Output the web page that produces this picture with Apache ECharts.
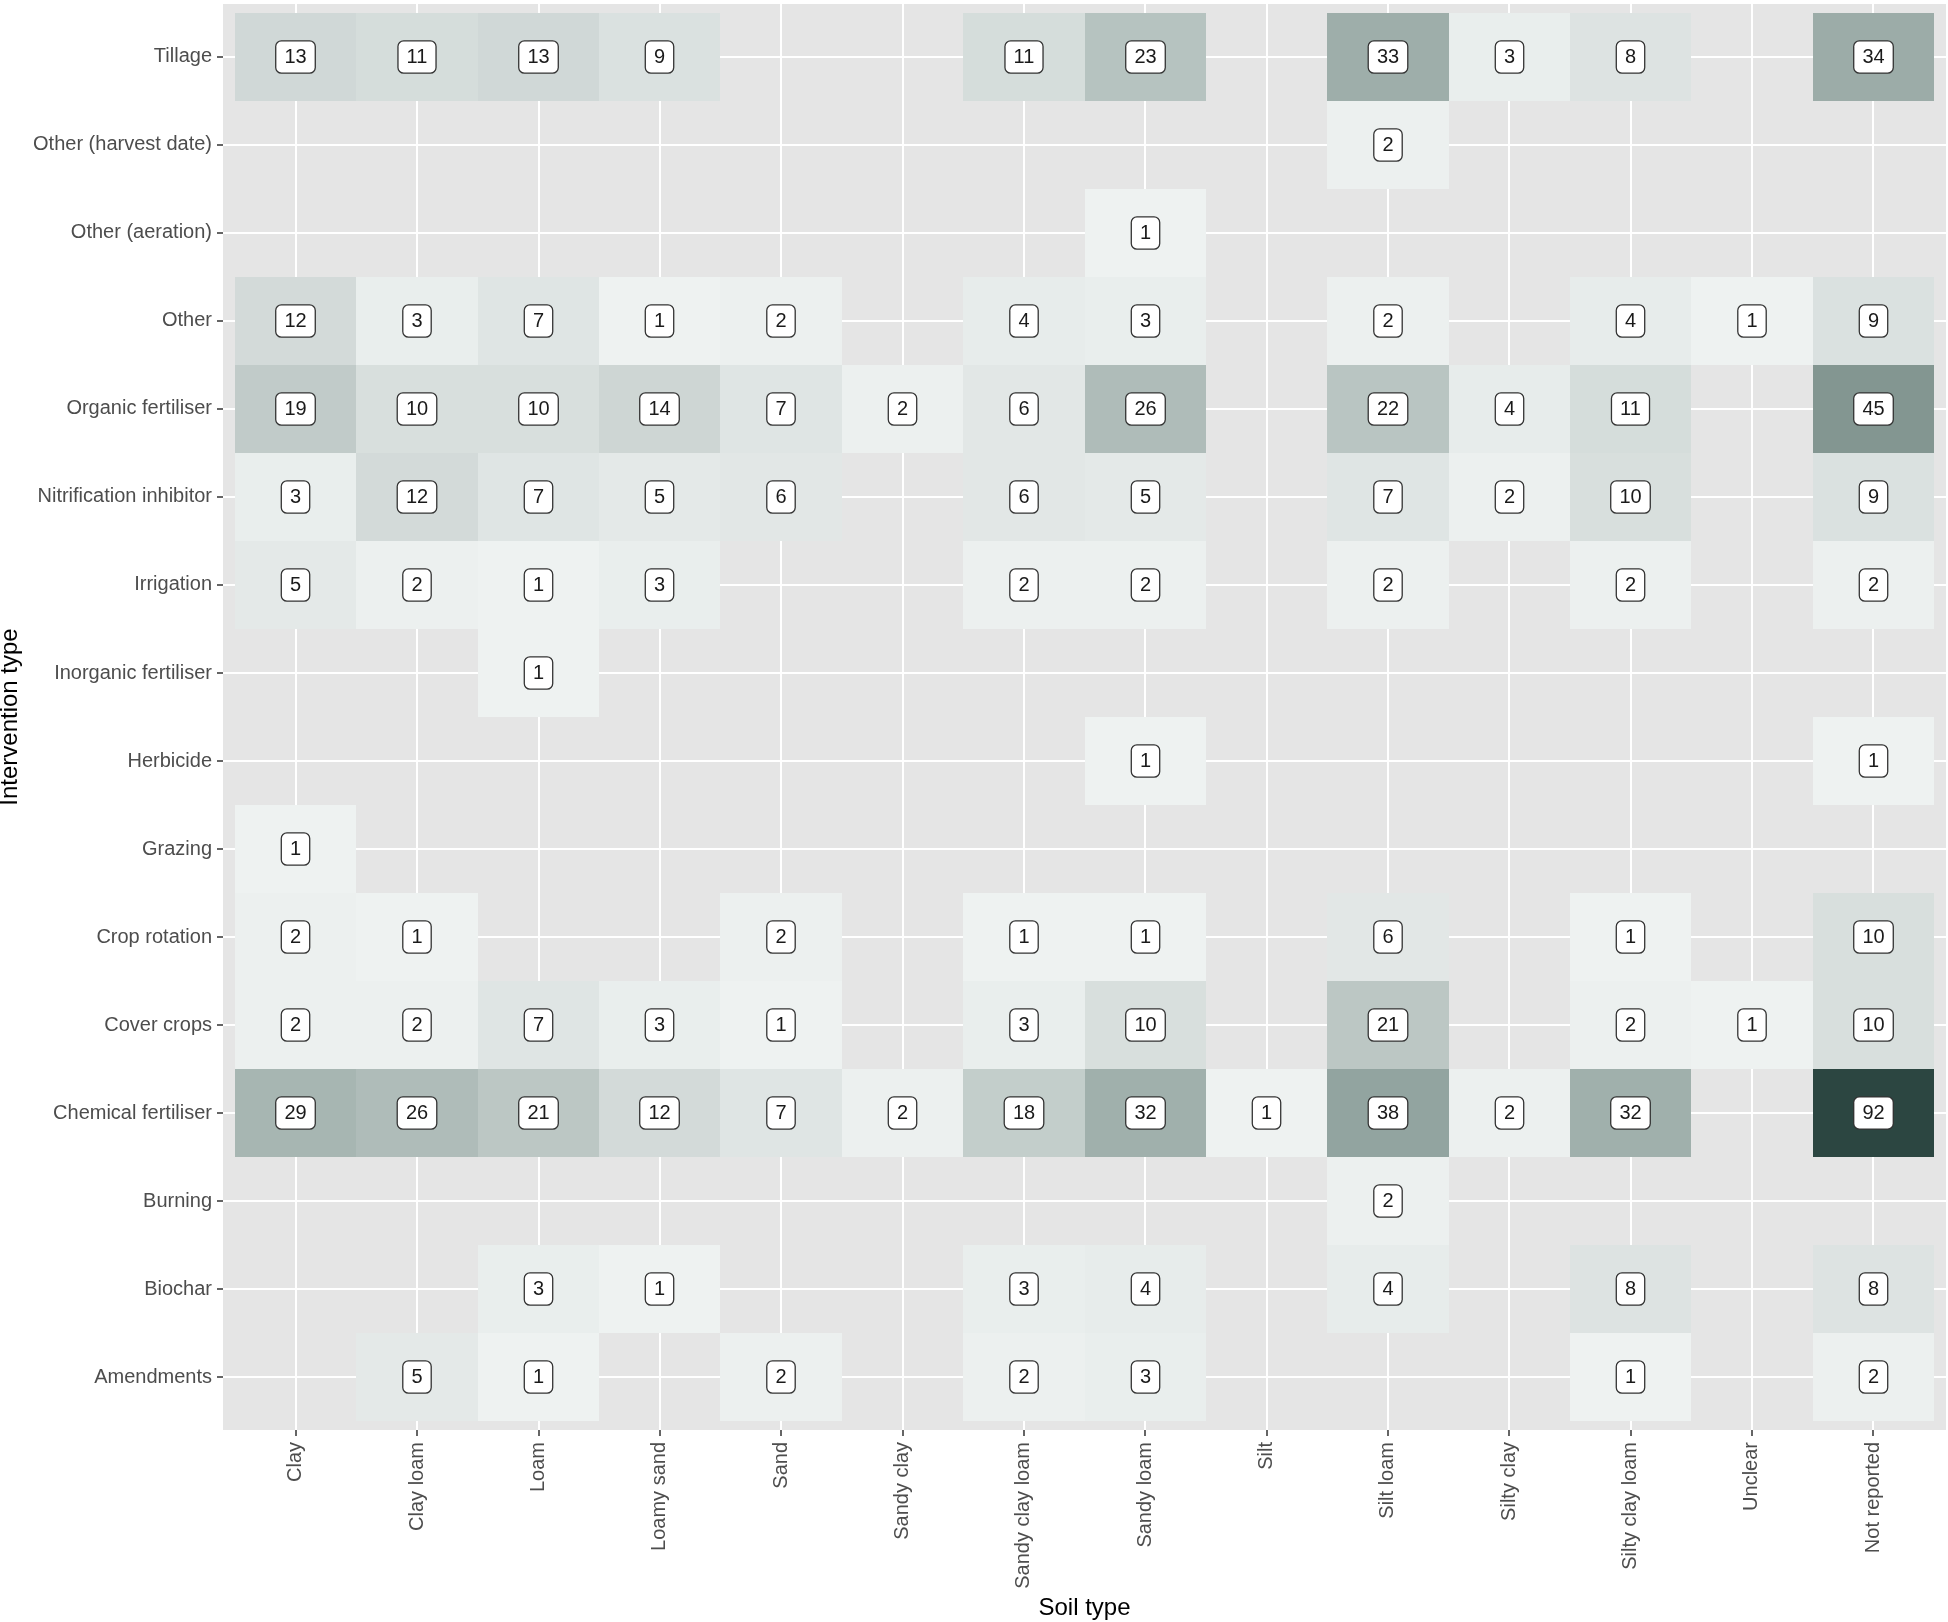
<!DOCTYPE html>
<html>
<head>
<meta charset="utf-8">
<script src="https://cdn.jsdelivr.net/npm/echarts@6/dist/echarts.min.js"></script>
<style>
  html, body { margin: 0; padding: 0; background: #fff; }
  #main { width: 1948px; height: 1622px; }
</style>
</head>
<body>
<div id="main"></div>
<script>
const soilTypes = ['Clay', 'Clay loam', 'Loam', 'Loamy sand', 'Sand', 'Sandy clay', 'Sandy clay loam',
  'Sandy loam', 'Silt', 'Silt loam', 'Silty clay', 'Silty clay loam', 'Unclear', 'Not reported']

// bottom to top, like the y axis
const interventions = ['Amendments', 'Biochar', 'Burning', 'Chemical fertiliser', 'Cover crops',
  'Crop rotation', 'Grazing', 'Herbicide', 'Inorganic fertiliser', 'Irrigation',
  'Nitrification inhibitor', 'Organic fertiliser', 'Other', 'Other (aeration)',
  'Other (harvest date)', 'Tillage']

// counts per soil type (same order as soilTypes), null = empty cell
const amendments = [null, 5, 1, null, 2, null, 2, 3, null, null, null, 1, null, 2]
const biochar = [null, null, 3, 1, null, null, 3, 4, null, 4, null, 8, null, 8]
const burning = [null, null, null, null, null, null, null, null, null, 2, null, null, null, null]
const chemicalFertiliser = [29, 26, 21, 12, 7, 2, 18, 32, 1, 38, 2, 32, null, 92]
const coverCrops = [2, 2, 7, 3, 1, null, 3, 10, null, 21, null, 2, 1, 10]
const cropRotation = [2, 1, null, null, 2, null, 1, 1, null, 6, null, 1, null, 10]
const grazing = [1, null, null, null, null, null, null, null, null, null, null, null, null, null]
const herbicide = [null, null, null, null, null, null, null, 1, null, null, null, null, null, 1]
const inorganicFertiliser = [null, null, 1, null, null, null, null, null, null, null, null, null, null, null]
const irrigation = [5, 2, 1, 3, null, null, 2, 2, null, 2, null, 2, null, 2]
const nitrificationInhibitor = [3, 12, 7, 5, 6, null, 6, 5, null, 7, 2, 10, null, 9]
const organicFertiliser = [19, 10, 10, 14, 7, 2, 6, 26, null, 22, 4, 11, null, 45]
const other = [12, 3, 7, 1, 2, null, 4, 3, null, 2, null, 4, 1, 9]
const otherAeration = [null, null, null, null, null, null, null, 1, null, null, null, null, null, null]
const otherHarvestDate = [null, null, null, null, null, null, null, null, null, 2, null, null, null, null]
const tillage = [13, 11, 13, 9, null, null, 11, 23, null, 33, 3, 8, null, 34]

const counts = [amendments, biochar, burning, chemicalFertiliser, coverCrops, cropRotation, grazing,
  herbicide, inorganicFertiliser, irrigation, nitrificationInhibitor, organicFertiliser, other,
  otherAeration, otherHarvestDate, tillage]

const fontFamily = '"Liberation Sans", Arial, Helvetica, sans-serif'

// flatten into [x, y, n] with 1-based positions
const cells = []
counts.forEach((row, yi) => {
  row.forEach((n, xi) => {
    if (n != null) cells.push([xi + 1, yi + 1, n])
  })
})

const xTicks = soilTypes.map((s, i) => i + 1)
const yTicks = interventions.map((s, i) => i + 1)

const chart = echarts.init(document.getElementById('main'))
chart.setOption({
  animation: false,
  grid: {
    show: true,
    left: 223,
    right: 2,
    top: 4,
    bottom: 192,
    outerBoundsMode: 'none',
    containLabel: false,
    backgroundColor: '#e5e5e5',
    borderWidth: 0
  },
  visualMap: {
    show: false,
    type: 'continuous',
    dimension: 2,
    seriesIndex: 0,
    min: 1,
    max: 92,
    inRange: {
      color: ['#eef2f1', '#dde3e2', '#cbd4d2', '#b9c5c2', '#a7b6b2', '#97a8a4', '#879995',
        '#7a8d88', '#6d817d', '#60756f', '#536964', '#465e59', '#39524d', '#2c4641']
    }
  },
  xAxis: {
    type: 'value',
    min: 0.4,
    max: 14.6,
    name: 'Soil type',
    nameLocation: 'middle',
    nameGap: 156,
    nameTextStyle: { fontSize: 24, color: '#000', fontFamily },
    axisLine: { show: false },
    axisTick: { show: true, length: 6, customValues: xTicks, lineStyle: { color: '#333', width: 1.5 } },
    axisLabel: {
      customValues: xTicks,
      rotate: 90,
      margin: 12,
      fontSize: 20,
      color: '#4d4d4d',
      fontFamily,
      formatter: (v) => soilTypes[Math.round(v) - 1]
    },
    splitLine: { show: true, lineStyle: { color: '#fff', width: 2 } }
  },
  yAxis: {
    type: 'value',
    min: 0.4,
    max: 16.6,
    name: 'Intervention type',
    nameLocation: 'middle',
    nameGap: 198,
    nameTextStyle: { fontSize: 24, color: '#000', fontFamily },
    axisLine: { show: false },
    axisTick: { show: true, length: 6, customValues: yTicks, lineStyle: { color: '#333', width: 1.5 } },
    axisLabel: {
      customValues: yTicks,
      margin: 11,
      fontSize: 20,
      color: '#4d4d4d',
      fontFamily,
      formatter: (v) => interventions[Math.round(v) - 1]
    },
    splitLine: { show: true, lineStyle: { color: '#fff', width: 2 } }
  },
  series: [
    {
      type: 'custom',
      data: cells,
      encode: { x: 0, y: 1 },
      renderItem: (params, api) => {
        const c = api.coord([api.value(0), api.value(1)])
        const s = api.size([1, 1])
        const x0 = Math.round(c[0] - s[0] / 2)
        const y0 = Math.round(c[1] - s[1] / 2)
        return {
          type: 'rect',
          shape: { x: x0, y: y0, width: Math.round(c[0] + s[0] / 2) - x0, height: Math.round(c[1] + s[1] / 2) - y0 },
          style: { fill: api.visual('color') },
          textContent: {
            style: {
              text: String(api.value(2)),
              fontSize: 20,
              fontFamily,
              fill: '#1a1a1a',
              backgroundColor: '#fff',
              borderColor: '#333',
              borderWidth: 1.3,
              borderRadius: 5,
              padding: [6, 8, 5, 8]
            }
          },
          textConfig: { position: 'inside' }
        }
      }
    }
  ]
})
window.addEventListener('resize', () => {
  chart.resize()
})
</script>
</body>
</html>
